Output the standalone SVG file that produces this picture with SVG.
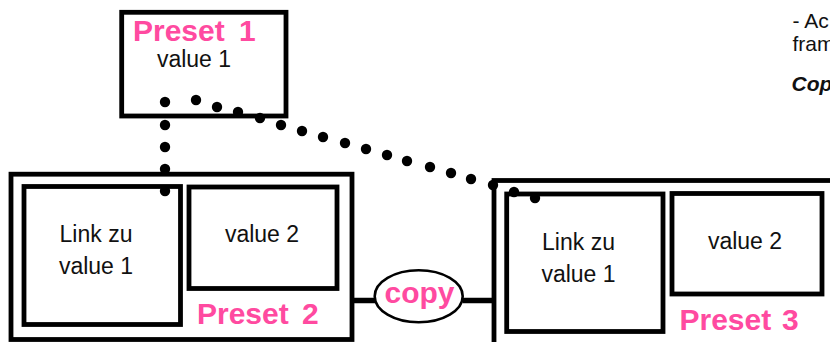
<svg xmlns="http://www.w3.org/2000/svg" width="830" height="342" viewBox="0 0 830 342">
<style>
  .box{fill:none;stroke:#000;stroke-width:4.8}
  .t{font-family:"Liberation Sans",Arial,sans-serif;font-size:23px;fill:#111;text-anchor:middle}
  .p{font-family:"Liberation Sans",Arial,sans-serif;font-size:30px;font-weight:bold;fill:#ff4aa0}
  .note{font-family:"Liberation Sans",Arial,sans-serif;font-size:21px;fill:#111}
  .dot{fill:#000}
  .ln{stroke:#000;stroke-width:5.5;fill:none}
</style>
<rect width="830" height="342" fill="#fff"/>
<g id="connectors">
  <line class="ln" x1="352" y1="300.5" x2="375" y2="300.5"/>
  <line class="ln" x1="463" y1="300.5" x2="494" y2="300.5"/>
  <g id="dots-vertical">
    <circle class="dot" cx="165" cy="102" r="5.2"/>
    <circle class="dot" cx="165" cy="125" r="5.2"/>
    <circle class="dot" cx="165" cy="147" r="5.2"/>
    <circle class="dot" cx="165" cy="169" r="5.2"/>
    <circle class="dot" cx="165" cy="191" r="5.2"/>
  </g>
  <g id="dots-diagonal">
    <circle class="dot" cx="196" cy="100" r="5.2"/>
    <circle class="dot" cx="217" cy="107" r="5.2"/>
    <circle class="dot" cx="238" cy="112" r="5.2"/>
    <circle class="dot" cx="260" cy="118" r="5.2"/>
    <circle class="dot" cx="281" cy="125" r="5.2"/>
    <circle class="dot" cx="302" cy="131" r="5.2"/>
    <circle class="dot" cx="323" cy="137" r="5.2"/>
    <circle class="dot" cx="345" cy="143" r="5.2"/>
    <circle class="dot" cx="366" cy="149" r="5.2"/>
    <circle class="dot" cx="387" cy="155" r="5.2"/>
    <circle class="dot" cx="407" cy="161" r="5.2"/>
    <circle class="dot" cx="430" cy="167" r="5.2"/>
    <circle class="dot" cx="451" cy="173" r="5.2"/>
    <circle class="dot" cx="471" cy="179" r="5.2"/>
    <circle class="dot" cx="493" cy="185" r="5.2"/>
    <circle class="dot" cx="514" cy="192" r="5.2"/>
    <circle class="dot" cx="535" cy="198" r="5.2"/>
  </g>
</g>
<g id="preset1">
  <rect class="box" x="121.7" y="12.3" width="164.3" height="103.7"/>
  <text class="p" x="133" y="41">Preset<tspan x="239">1</tspan></text>
  <text class="t" x="194" y="67">value 1</text>
</g>
<g id="preset2">
  <rect class="box" x="11" y="174.2" width="341" height="165.3"/>
  <text class="p" x="197" y="323.5">Preset<tspan x="302">2</tspan></text>
  <g id="preset2-link">
    <rect class="box" x="24" y="186.5" width="156.5" height="138"/>
    <text class="t" x="96" y="242">Link zu</text>
    <text class="t" x="96" y="274">value 1</text>
  </g>
  <g id="preset2-value2">
    <rect class="box" x="189" y="187" width="148" height="101.5"/>
    <text class="t" x="262" y="242">value 2</text>
  </g>
</g>
<g id="copy">
  <ellipse cx="418.7" cy="296.3" rx="44" ry="26" fill="#fff" stroke="#000" stroke-width="2.6"/>
  <text class="p" x="419.5" y="303" text-anchor="middle" font-size="29">copy</text>
</g>
<g id="preset3">
  <rect class="box" x="494" y="180.5" width="420" height="200"/>
  <text class="p" x="679.5" y="330">Preset<tspan x="782">3</tspan></text>
  <g id="preset3-link">
    <rect class="box" x="506.7" y="194" width="156.3" height="137.5"/>
    <text class="t" x="578.5" y="250">Link zu</text>
    <text class="t" x="578.5" y="281.5">value 1</text>
  </g>
  <g id="preset3-value2">
    <rect class="box" x="672" y="193.5" width="150" height="100.5"/>
    <text class="t" x="745" y="249">value 2</text>
  </g>
</g>
<g id="note">
  <text class="note" x="792.5" y="28">- Ac</text>
  <text class="note" x="792.5" y="51">fram</text>
  <text class="note" x="791.5" y="91" font-weight="bold" font-style="italic">Cop</text>
</g>
</svg>
